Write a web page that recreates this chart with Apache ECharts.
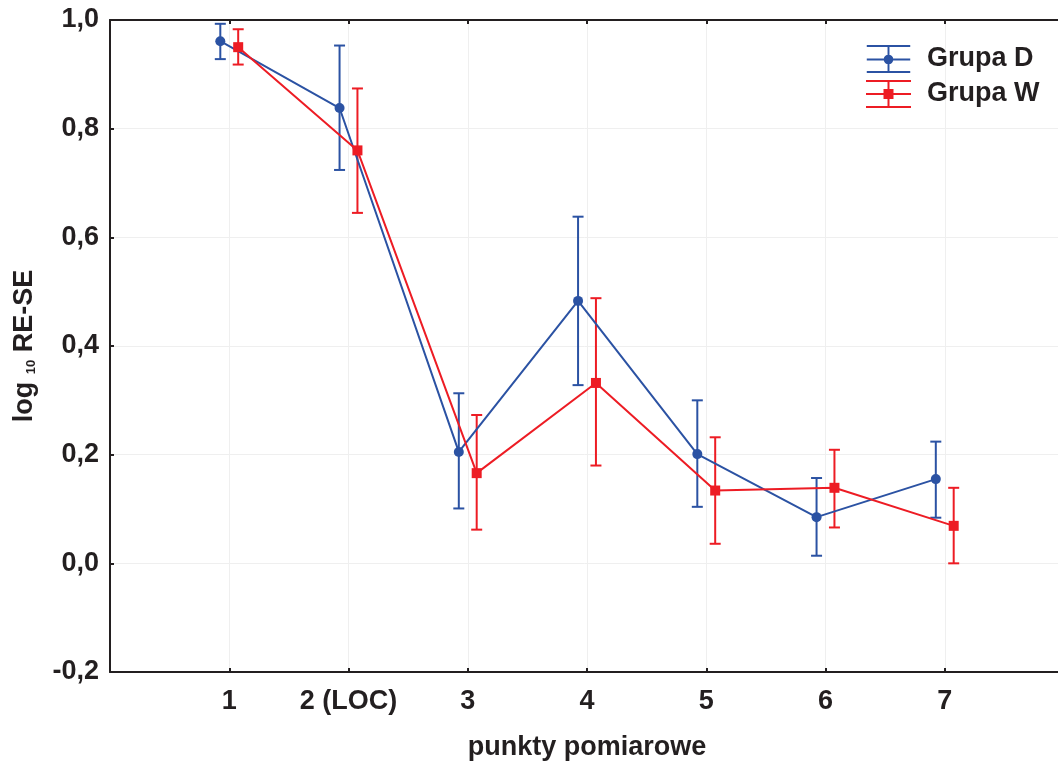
<!DOCTYPE html>
<html>
<head>
<meta charset="utf-8">
<script src="https://cdn.jsdelivr.net/npm/echarts@6/dist/echarts.min.js"></script>
<style>
  html, body { margin: 0; padding: 0; background: #ffffff; }
  #chart { width: 1058px; height: 764px; }
</style>
</head>
<body>
<div id="chart"></div>
<script>
// Measurement points along the x axis
const categories = ['1', '2 (LOC)', '3', '4', '5', '6', '7'];

// Group D: mean and error-bar bounds
const dMean = [0.961, 0.838, 0.205, 0.483, 0.201, 0.085, 0.155];
const dLow  = [0.928, 0.724, 0.101, 0.328, 0.104, 0.014, 0.084];
const dHigh = [0.993, 0.953, 0.313, 0.638, 0.300, 0.157, 0.224];

// Group W: mean and error-bar bounds
const wMean = [0.950, 0.760, 0.166, 0.332, 0.134, 0.139, 0.069];
const wLow  = [0.918, 0.645, 0.062, 0.180, 0.036, 0.066, 0.000];
const wHigh = [0.983, 0.874, 0.273, 0.488, 0.232, 0.209, 0.139];

// Y axis range
const yMin = -0.2, yMax = 1.0, yStep = 0.2;

const colorD = '#2b52a3';
const colorW = '#ed1c24';
const ink = '#231f20';
const font = 'Liberation Sans, Arial, sans-serif';
const fs = 27;

// The two groups are drawn slightly apart around each measurement point
const shiftD = -0.075, shiftW = 0.075;

const meanPoints = (means, shift) => means.map((v, i) => [i + 1 + shift, v]);
const barPoints = (lo, hi, shift) => lo.map((v, i) => [i + 1 + shift, v, hi[i]]);

function errorBar(color) {
  return function (params, api) {
    const x = api.value(0);
    const top = api.coord([x, api.value(2)]);
    const bot = api.coord([x, api.value(1)]);
    const hw = 5.5;
    const style = { stroke: color, lineWidth: 2 };
    return {
      type: 'group',
      children: [
        { type: 'line', shape: { x1: top[0], y1: top[1], x2: bot[0], y2: bot[1] }, style },
        { type: 'line', shape: { x1: top[0] - hw, y1: top[1], x2: top[0] + hw, y2: top[1] }, style },
        { type: 'line', shape: { x1: bot[0] - hw, y1: bot[1], x2: bot[0] + hw, y2: bot[1] }, style }
      ]
    };
  };
}

// Legend glyphs: whisker with caps plus the series marker
const iconD = 'path://M0,0H45V2H0Z M0,14H45V16H0Z M0,27H45V29H0Z M21.5,0H23.5V29H21.5Z ' +
              'M27.5,15A5,5 0 1,1 17.5,15A5,5 0 1,1 27.5,15Z';
const iconW = 'path://M0,0H45V2H0Z M0,13H45V15H0Z M0,26H45V28H0Z M21.5,0H23.5V28H21.5Z ' +
              'M17.5,9H27.5V19H17.5Z';

const chart = echarts.init(document.getElementById('chart'), null, { renderer: 'canvas' });

const axisLine = { show: true, onZero: false, lineStyle: { color: ink, width: 2 } };
const axisTick = { show: true, inside: true, length: 4, lineStyle: { color: ink, width: 2 } };
const splitLine = { show: true, lineStyle: { color: '#efefef', width: 1 } };

chart.setOption({
  animation: false,
  backgroundColor: '#ffffff',
  textStyle: { fontFamily: font },
  grid: { left: 110, top: 20, width: 954, height: 652, outerBoundsMode: 'none' },
  legend: {
    left: 866,
    top: 45,
    padding: 0,
    orient: 'vertical',
    itemWidth: 45,
    itemHeight: 28,
    itemGap: 7,
    selectedMode: false,
    itemStyle: { borderWidth: 0 },
    textStyle: { fontFamily: font, fontWeight: 'bold', fontSize: fs, color: ink, padding: [5, 0, 0, 11] },
    data: [
      { name: 'Grupa D', icon: iconD },
      { name: 'Grupa W', icon: iconW }
    ]
  },
  xAxis: [
    {
      type: 'value',
      position: 'bottom',
      min: 0,
      max: 8,
      interval: 1,
      name: 'punkty pomiarowe',
      nameLocation: 'middle',
      nameGap: 62,
      nameTextStyle: { fontFamily: font, fontWeight: 'bold', fontSize: fs, color: ink },
      axisLine: axisLine,
      axisTick: axisTick,
      axisLabel: {
        margin: 16,
        fontFamily: font, fontWeight: 'bold', fontSize: fs, color: ink,
        formatter: v => categories[v - 1] || ''
      },
      splitLine: splitLine
    },
    {
      type: 'value',
      position: 'top',
      min: 0,
      max: 8,
      interval: 1,
      axisLine: axisLine,
      axisTick: axisTick,
      axisLabel: { show: false },
      splitLine: { show: false }
    }
  ],
  yAxis: {
    type: 'value',
    min: yMin,
    max: yMax,
    interval: yStep,
    name: 'log {sub|10} RE-SE',
    nameLocation: 'middle',
    nameRotate: 90,
    nameGap: 72,
    nameTextStyle: {
      fontFamily: font, fontWeight: 'bold', fontSize: fs, color: ink,
      rich: {
        sub: { fontFamily: font, fontSize: 13, color: ink, verticalAlign: 'bottom', padding: [14, 0, 0, 0] }
      }
    },
    axisLine: axisLine,
    axisTick: axisTick,
    axisLabel: {
      margin: 11,
      fontFamily: font, fontWeight: 'bold', fontSize: fs, color: ink,
      formatter: v => v.toFixed(1).replace('.', ',')
    },
    splitLine: splitLine
  },
  series: [
    {
      name: 'Grupa D',
      type: 'line',
      data: meanPoints(dMean, shiftD),
      symbol: 'circle',
      symbolSize: 10,
      color: colorD,
      lineStyle: { color: colorD, width: 2 },
      itemStyle: { color: colorD, borderWidth: 0 },
      z: 3
    },
    {
      name: 'Grupa W',
      type: 'line',
      data: meanPoints(wMean, shiftW),
      symbol: 'rect',
      symbolSize: 10,
      color: colorW,
      lineStyle: { color: colorW, width: 2 },
      itemStyle: { color: colorW, borderWidth: 0 },
      z: 4
    },
    {
      name: 'D bars',
      type: 'custom',
      renderItem: errorBar(colorD),
      data: barPoints(dLow, dHigh, shiftD),
      encode: { x: 0, y: [1, 2] },
      z: 2
    },
    {
      name: 'W bars',
      type: 'custom',
      renderItem: errorBar(colorW),
      data: barPoints(wLow, wHigh, shiftW),
      encode: { x: 0, y: [1, 2] },
      z: 2
    }
  ]
});
</script>
</body>
</html>
